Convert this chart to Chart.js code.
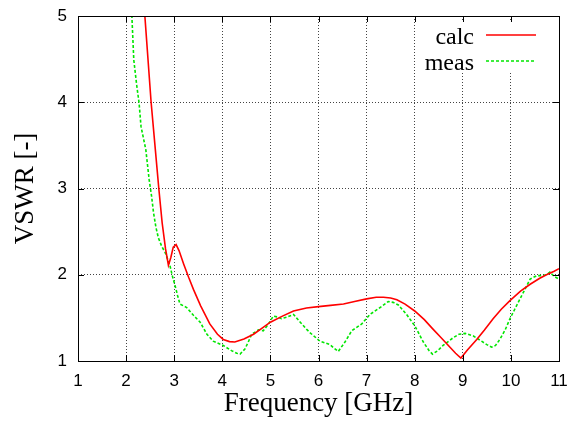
<!DOCTYPE html>
<html>
<head>
<meta charset="utf-8">
<script src="https://cdn.jsdelivr.net/npm/chart.js@4/dist/chart.umd.min.js"></script>
<style>
  html, body { margin: 0; padding: 0; background: #fff; }
  #wrap { width: 571px; height: 423px; }
</style>
</head>
<body>
<div id="wrap"><canvas id="vswr-chart" width="571" height="423"></canvas></div>
<script>
// x axis ticks (GHz) and y axis ticks
const xTicks = [1, 2, 3, 4, 5, 6, 7, 8, 9, 10, 11];
const yTicks = [1, 2, 3, 4, 5];

// calculated VSWR
const calcFreq = [2.30, 2.39, 2.52, 2.60, 2.68, 2.75, 2.82, 2.88, 2.93, 2.98, 3.04, 3.10, 3.20, 3.30, 3.40,
  3.55, 3.74, 3.90, 4.02, 4.15, 4.26, 4.45, 4.65, 4.85, 5.00, 5.25, 5.48, 5.75, 6.00, 6.25,
  6.52, 6.75, 7.00, 7.20, 7.35, 7.50, 7.63, 7.80, 8.00, 8.20, 8.38, 8.55, 8.70, 8.85, 8.96,
  9.10, 9.29, 9.45, 9.63, 9.80, 9.98, 10.20, 10.40, 10.60, 10.74, 10.90, 11.00];
const calcVswr = [5.6, 5.0, 4.0, 3.5, 3.0, 2.6, 2.3, 2.11, 2.2, 2.32, 2.35, 2.28, 2.12, 1.97, 1.83,
  1.64, 1.43, 1.31, 1.25, 1.225, 1.22, 1.255, 1.31, 1.39, 1.45, 1.52, 1.58, 1.615, 1.63, 1.645,
  1.66, 1.69, 1.72, 1.74, 1.74, 1.73, 1.71, 1.66, 1.58, 1.48, 1.37, 1.27, 1.18, 1.09, 1.035,
  1.13, 1.25, 1.36, 1.49, 1.60, 1.70, 1.81, 1.89, 1.96, 2.00, 2.04, 2.07];

// measured VSWR
const measFreq = [2.08, 2.12, 2.16, 2.22, 2.27, 2.31, 2.41, 2.48, 2.53, 2.57, 2.62, 2.67, 2.74, 2.81, 2.91,
  2.96, 3.02, 3.07, 3.12, 3.26, 3.40, 3.47, 3.54, 3.61, 3.68, 3.81, 4.02, 4.19, 4.30, 4.37,
  4.47, 4.54, 4.61, 4.75, 4.85, 4.95, 5.06, 5.15, 5.23, 5.35, 5.48, 5.62, 5.75, 5.82, 6.03,
  6.24, 6.32, 6.41, 6.55, 6.69, 6.90, 7.07, 7.28, 7.45, 7.55, 7.66, 7.83, 8.00, 8.18, 8.30,
  8.37, 8.48, 8.59, 8.80, 8.92, 9.05, 9.22, 9.39, 9.50, 9.60, 9.68, 9.77, 9.88, 9.98, 10.08,
  10.19, 10.30, 10.40, 10.54, 10.65, 10.74, 10.81, 10.90, 11.00];
const measVswr = [5.3, 5.0, 4.49, 4.2, 3.99, 3.72, 3.45, 3.10, 2.91, 2.72, 2.55, 2.43, 2.33, 2.26, 2.11,
  1.99, 1.87, 1.76, 1.66, 1.62, 1.53, 1.49, 1.45, 1.38, 1.31, 1.23, 1.18, 1.12, 1.09, 1.08,
  1.14, 1.22, 1.31, 1.36, 1.35, 1.42, 1.52, 1.51, 1.49, 1.51, 1.54, 1.45, 1.37, 1.33, 1.23,
  1.19, 1.15, 1.11, 1.22, 1.35, 1.43, 1.54, 1.62, 1.69, 1.68, 1.65, 1.54, 1.41, 1.22, 1.12,
  1.08, 1.12, 1.18, 1.27, 1.31, 1.32, 1.29, 1.23, 1.19, 1.16, 1.18, 1.25, 1.36, 1.49, 1.60,
  1.72, 1.84, 1.95, 1.99, 1.99, 2.00, 2.03, 1.98, 1.95];

const toPoints = (xs, ys) => xs.map((x, i) => ({ x, y: ys[i] }));

const SERIF = '"Liberation Serif", "Times New Roman", serif';
const SANS = '"Liberation Sans", Arial, sans-serif';

// gnuplot-like frame: border plus inward ticks on all four sides
const framePlugin = {
  id: 'frame',
  beforeDatasetsDraw(chart) {
    // key area blanks the grid behind it
    const { ctx, chartArea: a } = chart;
    ctx.save();
    ctx.fillStyle = '#fff';
    ctx.fillRect(a.right - 134, a.top + 5, 124, 52);
    ctx.restore();
  },
  afterDraw(chart) {
    const { ctx, chartArea: a, scales } = chart;
    const len = 6;
    ctx.save();
    ctx.strokeStyle = '#000';
    ctx.lineWidth = 1;
    ctx.beginPath();
    xTicks.forEach((t) => {
      const px = Math.round(scales.x.getPixelForValue(t)) + 0.5;
      ctx.moveTo(px, a.bottom); ctx.lineTo(px, a.bottom - len);
      ctx.moveTo(px, a.top); ctx.lineTo(px, a.top + len);
    });
    yTicks.forEach((t) => {
      const py = Math.round(scales.y.getPixelForValue(t)) + 0.5;
      ctx.moveTo(a.left, py); ctx.lineTo(a.left + len, py);
      ctx.moveTo(a.right, py); ctx.lineTo(a.right - len, py);
    });
    ctx.stroke();
    ctx.strokeRect(Math.round(a.left) + 0.5, Math.round(a.top) + 0.5,
      Math.round(a.right - a.left), Math.round(a.bottom - a.top));

    // key, text right aligned with the sample line after it
    ctx.font = '24px ' + SERIF;
    ctx.textAlign = 'right';
    ctx.textBaseline = 'alphabetic';
    chart.data.datasets.forEach((ds, i) => {
      const y = a.top + 19 + i * 26;
      ctx.fillStyle = '#000';
      ctx.fillText(ds.label, a.right - 85, y + 9);
      ctx.strokeStyle = ds.borderColor;
      ctx.lineWidth = ds.borderWidth;
      ctx.setLineDash(ds.borderDash || []);
      ctx.beginPath();
      ctx.moveTo(a.right - 73, y);
      ctx.lineTo(a.right - 23, y);
      ctx.stroke();
      ctx.setLineDash([]);
    });
    ctx.restore();
  }
};

const ctx = document.getElementById('vswr-chart').getContext('2d');
new Chart(ctx, {
  type: 'line',
  data: {
    datasets: [
      {
        label: 'calc',
        data: toPoints(calcFreq, calcVswr),
        borderColor: '#ff0000',
        borderWidth: 1.6,
        pointRadius: 0,
        tension: 0,
        fill: false
      },
      {
        label: 'meas',
        data: toPoints(measFreq, measVswr),
        borderColor: '#00e600',
        borderWidth: 1.6,
        borderDash: [3, 2],
        pointRadius: 0,
        tension: 0,
        fill: false
      }
    ]
  },
  options: {
    responsive: false,
    animation: false,
    layout: { padding: { top: 16, right: 12, left: 0, bottom: 0 } },
    plugins: {
      legend: { display: false },
      tooltip: { enabled: false },
      title: { display: false }
    },
    scales: {
      x: {
        type: 'linear',
        min: 1,
        max: 11,
        afterFit: (scale) => {
          scale.height = 62;
          // let the end labels hang into the page padding
          scale.paddingLeft = 0;
          scale.paddingRight = 0;
        },
        afterBuildTicks: (scale) => { scale.ticks = xTicks.map((v) => ({ value: v })); },
        ticks: { color: '#000', font: { family: SANS, size: 17 }, padding: 10, maxRotation: 0 },
        grid: { color: '#444', lineWidth: 1, drawTicks: false },
        border: { display: false, dash: [1, 2] },
        title: {
          display: true,
          text: 'Frequency [GHz]',
          color: '#000',
          font: { family: SERIF, size: 27 },
          padding: { top: 0, bottom: 3 }
        }
      },
      y: {
        type: 'linear',
        min: 1,
        max: 5,
        afterFit: (scale) => {
          scale.width = 78;
          scale.paddingTop = 0;
          scale.paddingBottom = 0;
        },
        afterBuildTicks: (scale) => { scale.ticks = yTicks.map((v) => ({ value: v })); },
        ticks: { color: '#000', font: { family: SANS, size: 17 }, padding: 11 },
        grid: { color: '#444', lineWidth: 1, drawTicks: false },
        border: { display: false, dash: [1, 2] },
        title: {
          display: true,
          text: 'VSWR [-]',
          color: '#000',
          font: { family: SERIF, size: 27 },
          padding: { top: 10, bottom: 0 }
        }
      }
    }
  },
  plugins: [framePlugin]
});
</script>
</body>
</html>
